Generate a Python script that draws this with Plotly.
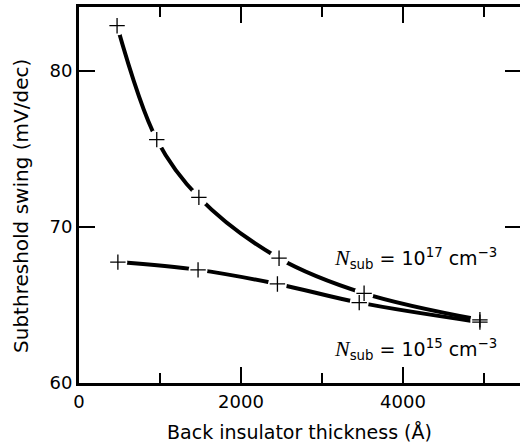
import plotly.graph_objects as go

# Data
x_hi = [470, 960, 1480, 2470, 3520, 4950]
y_hi = [82.9, 75.6, 71.9, 68.0, 65.75, 64.05]   # N_sub = 1e17
x_lo = [480, 1470, 2450, 3460, 4950]
y_lo = [67.75, 67.25, 66.35, 65.15, 63.9]       # N_sub = 1e15

x_major = [0, 2000, 4000]
x_minor = [1000, 3000, 5000]
y_ticks = [60, 70, 80]
x_range = [0, 5445]
y_range = [60, 84.1]

FONT = "DejaVu Sans"
fig = go.Figure()

for xs, ys, nm in [(x_hi, y_hi, "1e17"), (x_lo, y_lo, "1e15")]:
    fig.add_trace(go.Scatter(x=xs, y=ys, mode="lines", line=dict(color="black", width=4, shape="spline", smoothing=1.0),
                             showlegend=False, hoverinfo="skip", name=nm))
for xs, ys in [(x_hi, y_hi), (x_lo, y_lo)]:
    fig.add_trace(go.Scatter(x=xs, y=ys, mode="markers",
                             marker=dict(symbol="circle", size=19, color="#ffffff", opacity=1,
                                         line=dict(width=0, color="#ffffff")),
                             showlegend=False, hoverinfo="skip"))
for xs, ys in [(x_hi, y_hi), (x_lo, y_lo)]:
    fig.add_trace(go.Scatter(x=xs, y=ys, mode="markers", yaxis="y2",
                             marker=dict(symbol="cross-thin", size=11, color="black",
                                         line=dict(width=1.3, color="black")),
                             showlegend=False))

axis_common = dict(showgrid=False, zeroline=False, color="black")
fig.update_layout(
    width=520, height=446,
    margin=dict(l=79, r=0, t=7, b=63),
    plot_bgcolor="white", paper_bgcolor="white",
    font=dict(family=FONT, size=18, color="black"),
    xaxis=dict(**axis_common, range=x_range, tickvals=x_major, ticks="inside", ticklen=16, tickwidth=2,
               tickcolor="black", showline=True, linewidth=3, linecolor="black", mirror="ticks",
               minor=dict(tickvals=x_minor, ticks="inside", ticklen=10, tickwidth=2, tickcolor="black"),
               tickfont=dict(size=18),
               title=dict(text="Back insulator thickness (Å)", font=dict(size=19), standoff=16)),
    yaxis=dict(**axis_common, range=y_range, tickvals=y_ticks, ticks="inside", ticklen=16, tickwidth=2,
               tickcolor="black", showline=True, linewidth=3, linecolor="black",
               tickfont=dict(size=18)),
    yaxis2=dict(**axis_common, range=y_range, overlaying="y", side="right", anchor="x",
                tickvals=y_ticks, ticks="inside", ticklen=15, tickwidth=2, tickcolor="black",
                showline=False, showticklabels=False),
)

fig.add_annotation(text="Subthreshold swing (mV/dec)", xref="paper", yref="paper",
                   x=-0.13, y=0.47, textangle=-90, showarrow=False, font=dict(size=20),
                   xanchor="center", yanchor="middle")

serifN = "<span style='font-family:Liberation Serif;font-size:22px'><i>N</i></span>"
fig.add_annotation(text=serifN + "<sub>sub</sub> = 10<sup>17</sup> cm<sup>−3</sup>",
                   x=4150, y=67.95, showarrow=False, font=dict(size=19), xanchor="center", yanchor="middle")
fig.add_annotation(text=serifN + "<sub>sub</sub> = 10<sup>15</sup> cm<sup>−3</sup>",
                   x=4150, y=62.15, showarrow=False, font=dict(size=19), xanchor="center", yanchor="middle")

fig.write_html("out.html")
